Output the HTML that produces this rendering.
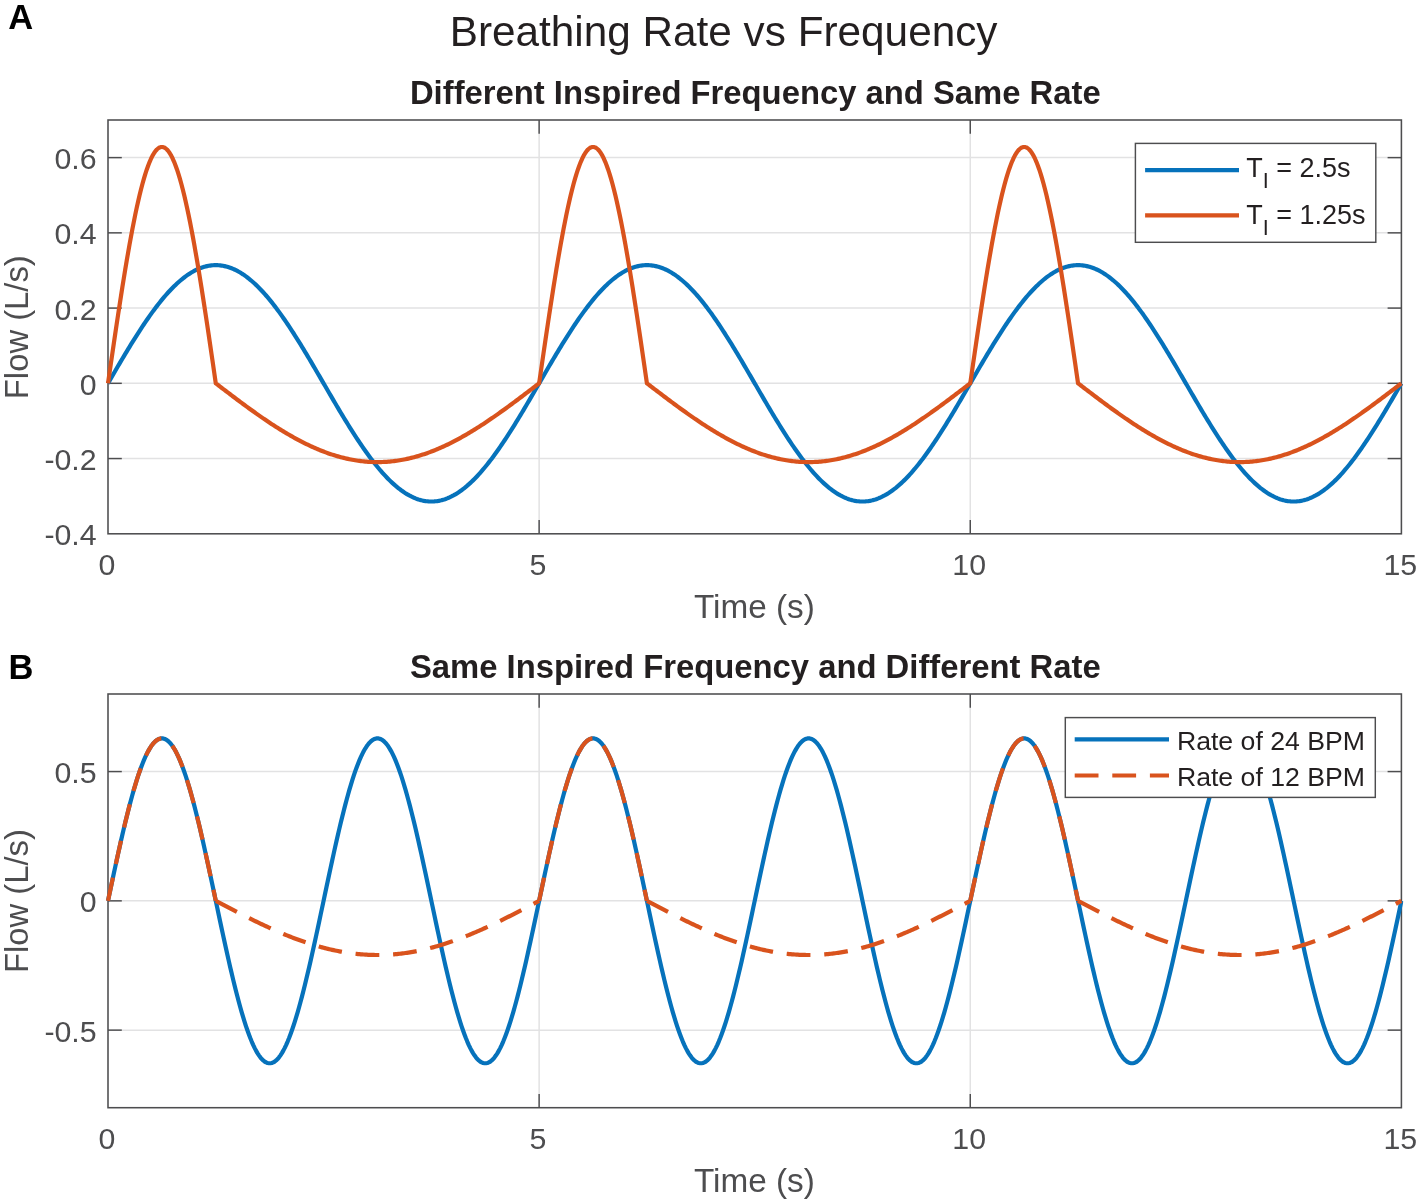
<!DOCTYPE html>
<html lang="en"><head><meta charset="utf-8"><title>Breathing Rate vs Frequency</title>
<style>html,body{margin:0;padding:0;background:#fff;}svg{display:block;will-change:transform;}text{font-family:"Liberation Sans",sans-serif;}</style></head><body>
<svg width="1417" height="1199" viewBox="0 0 1417 1199">
<rect x="0" y="0" width="1417" height="1199" fill="#fff"/>
<line x1="539.13" y1="120.00" x2="539.13" y2="533.80" stroke="#E2E2E3" stroke-width="1.50"/>
<line x1="970.27" y1="120.00" x2="970.27" y2="533.80" stroke="#E2E2E3" stroke-width="1.50"/>
<line x1="108.00" y1="157.62" x2="1401.40" y2="157.62" stroke="#E2E2E3" stroke-width="1.50"/>
<line x1="108.00" y1="232.85" x2="1401.40" y2="232.85" stroke="#E2E2E3" stroke-width="1.50"/>
<line x1="108.00" y1="308.09" x2="1401.40" y2="308.09" stroke="#E2E2E3" stroke-width="1.50"/>
<line x1="108.00" y1="383.33" x2="1401.40" y2="383.33" stroke="#E2E2E3" stroke-width="1.50"/>
<line x1="108.00" y1="458.56" x2="1401.40" y2="458.56" stroke="#E2E2E3" stroke-width="1.50"/>
<rect x="108.00" y="120.00" width="1293.40" height="413.80" fill="none" stroke="#4D4D4F" stroke-width="1.55"/>
<line x1="539.13" y1="533.80" x2="539.13" y2="520.00" stroke="#4D4D4F" stroke-width="1.45"/>
<line x1="539.13" y1="120.00" x2="539.13" y2="133.80" stroke="#4D4D4F" stroke-width="1.45"/>
<line x1="970.27" y1="533.80" x2="970.27" y2="520.00" stroke="#4D4D4F" stroke-width="1.45"/>
<line x1="970.27" y1="120.00" x2="970.27" y2="133.80" stroke="#4D4D4F" stroke-width="1.45"/>
<line x1="108.00" y1="157.62" x2="121.80" y2="157.62" stroke="#4D4D4F" stroke-width="1.45"/>
<line x1="1401.40" y1="157.62" x2="1387.60" y2="157.62" stroke="#4D4D4F" stroke-width="1.45"/>
<line x1="108.00" y1="232.85" x2="121.80" y2="232.85" stroke="#4D4D4F" stroke-width="1.45"/>
<line x1="1401.40" y1="232.85" x2="1387.60" y2="232.85" stroke="#4D4D4F" stroke-width="1.45"/>
<line x1="108.00" y1="308.09" x2="121.80" y2="308.09" stroke="#4D4D4F" stroke-width="1.45"/>
<line x1="1401.40" y1="308.09" x2="1387.60" y2="308.09" stroke="#4D4D4F" stroke-width="1.45"/>
<line x1="108.00" y1="383.33" x2="121.80" y2="383.33" stroke="#4D4D4F" stroke-width="1.45"/>
<line x1="1401.40" y1="383.33" x2="1387.60" y2="383.33" stroke="#4D4D4F" stroke-width="1.45"/>
<line x1="108.00" y1="458.56" x2="121.80" y2="458.56" stroke="#4D4D4F" stroke-width="1.45"/>
<line x1="1401.40" y1="458.56" x2="1387.60" y2="458.56" stroke="#4D4D4F" stroke-width="1.45"/>
<text x="96.6" y="169.12" font-size="30.30" fill="#4D4D4F" text-anchor="end">0.6</text>
<text x="96.6" y="244.35" font-size="30.30" fill="#4D4D4F" text-anchor="end">0.4</text>
<text x="96.6" y="319.59" font-size="30.30" fill="#4D4D4F" text-anchor="end">0.2</text>
<text x="96.6" y="394.83" font-size="30.30" fill="#4D4D4F" text-anchor="end">0</text>
<text x="96.6" y="470.06" font-size="30.30" fill="#4D4D4F" text-anchor="end">-0.2</text>
<text x="96.6" y="545.30" font-size="30.30" fill="#4D4D4F" text-anchor="end">-0.4</text>
<text x="106.90" y="575.30" font-size="30.30" fill="#4D4D4F" text-anchor="middle">0</text>
<text x="538.03" y="575.30" font-size="30.30" fill="#4D4D4F" text-anchor="middle">5</text>
<text x="969.17" y="575.30" font-size="30.30" fill="#4D4D4F" text-anchor="middle">10</text>
<text x="1400.30" y="575.30" font-size="30.30" fill="#4D4D4F" text-anchor="middle">15</text>
<text x="754.4" y="617.60" font-size="33.30" fill="#4D4D4F" text-anchor="middle">Time (s)</text>
<text transform="translate(28.2 327.20) rotate(-90)" font-size="32.80" fill="#4D4D4F" text-anchor="middle">Flow (L/s)</text>
<clipPath id="clipA"><rect x="106.00" y="120.00" width="1297.40" height="413.80"/></clipPath>
<g clip-path="url(#clipA)" fill="none" stroke-linejoin="round" stroke-linecap="butt">
<path d="M108.00 383.33 L109.44 380.85 L110.87 378.38 L112.31 375.91 L113.75 373.44 L115.19 370.97 L116.62 368.52 L118.06 366.06 L119.50 363.62 L120.93 361.18 L122.37 358.76 L123.81 356.34 L125.25 353.94 L126.68 351.55 L128.12 349.17 L129.56 346.81 L130.99 344.46 L132.43 342.13 L133.87 339.82 L135.31 337.53 L136.74 335.26 L138.18 333.01 L139.62 330.78 L141.05 328.57 L142.49 326.39 L143.93 324.24 L145.36 322.11 L146.80 320.00 L148.24 317.93 L149.68 315.88 L151.11 313.86 L152.55 311.88 L153.99 309.92 L155.42 308.00 L156.86 306.11 L158.30 304.25 L159.74 302.43 L161.17 300.64 L162.61 298.89 L164.05 297.18 L165.48 295.50 L166.92 293.86 L168.36 292.27 L169.80 290.71 L171.23 289.19 L172.67 287.72 L174.11 286.28 L175.54 284.89 L176.98 283.54 L178.42 282.24 L179.86 280.98 L181.29 279.76 L182.73 278.59 L184.17 277.47 L185.60 276.39 L187.04 275.36 L188.48 274.38 L189.92 273.45 L191.35 272.56 L192.79 271.72 L194.23 270.93 L195.66 270.19 L197.10 269.50 L198.54 268.86 L199.98 268.27 L201.41 267.73 L202.85 267.24 L204.29 266.80 L205.72 266.41 L207.16 266.08 L208.60 265.79 L210.03 265.56 L211.47 265.38 L212.91 265.25 L214.35 265.17 L215.78 265.15 L217.22 265.17 L218.66 265.25 L220.09 265.38 L221.53 265.56 L222.97 265.79 L224.41 266.08 L225.84 266.41 L227.28 266.80 L228.72 267.24 L230.15 267.73 L231.59 268.27 L233.03 268.86 L234.47 269.50 L235.90 270.19 L237.34 270.93 L238.78 271.72 L240.21 272.56 L241.65 273.45 L243.09 274.38 L244.53 275.36 L245.96 276.39 L247.40 277.47 L248.84 278.59 L250.27 279.76 L251.71 280.98 L253.15 282.24 L254.59 283.54 L256.02 284.89 L257.46 286.28 L258.90 287.72 L260.33 289.19 L261.77 290.71 L263.21 292.27 L264.65 293.86 L266.08 295.50 L267.52 297.18 L268.96 298.89 L270.39 300.64 L271.83 302.43 L273.27 304.25 L274.70 306.11 L276.14 308.00 L277.58 309.92 L279.02 311.88 L280.45 313.86 L281.89 315.88 L283.33 317.93 L284.76 320.00 L286.20 322.11 L287.64 324.24 L289.08 326.39 L290.51 328.57 L291.95 330.78 L293.39 333.01 L294.82 335.26 L296.26 337.53 L297.70 339.82 L299.14 342.13 L300.57 344.46 L302.01 346.81 L303.45 349.17 L304.88 351.55 L306.32 353.94 L307.76 356.34 L309.20 358.76 L310.63 361.18 L312.07 363.62 L313.51 366.06 L314.94 368.52 L316.38 370.97 L317.82 373.44 L319.26 375.91 L320.69 378.38 L322.13 380.85 L323.57 383.33 L325.00 385.80 L326.44 388.28 L327.88 390.75 L329.32 393.22 L330.75 395.68 L332.19 398.14 L333.63 400.59 L335.06 403.04 L336.50 405.47 L337.94 407.90 L339.37 410.31 L340.81 412.72 L342.25 415.11 L343.69 417.49 L345.12 419.85 L346.56 422.19 L348.00 424.52 L349.43 426.83 L350.87 429.12 L352.31 431.40 L353.75 433.65 L355.18 435.87 L356.62 438.08 L358.06 440.26 L359.49 442.42 L360.93 444.55 L362.37 446.65 L363.81 448.73 L365.24 450.77 L366.68 452.79 L368.12 454.78 L369.55 456.74 L370.99 458.66 L372.43 460.55 L373.87 462.41 L375.30 464.23 L376.74 466.01 L378.18 467.76 L379.61 469.48 L381.05 471.15 L382.49 472.79 L383.93 474.39 L385.36 475.94 L386.80 477.46 L388.24 478.94 L389.67 480.37 L391.11 481.76 L392.55 483.11 L393.99 484.42 L395.42 485.68 L396.86 486.89 L398.30 488.06 L399.73 489.18 L401.17 490.26 L402.61 491.29 L404.04 492.27 L405.48 493.21 L406.92 494.10 L408.36 494.93 L409.79 495.72 L411.23 496.46 L412.67 497.15 L414.10 497.80 L415.54 498.39 L416.98 498.93 L418.42 499.41 L419.85 499.85 L421.29 500.24 L422.73 500.58 L424.16 500.86 L425.60 501.09 L427.04 501.28 L428.48 501.40 L429.91 501.48 L431.35 501.51 L432.79 501.48 L434.22 501.40 L435.66 501.28 L437.10 501.09 L438.54 500.86 L439.97 500.58 L441.41 500.24 L442.85 499.85 L444.28 499.41 L445.72 498.93 L447.16 498.39 L448.60 497.80 L450.03 497.15 L451.47 496.46 L452.91 495.72 L454.34 494.93 L455.78 494.10 L457.22 493.21 L458.66 492.27 L460.09 491.29 L461.53 490.26 L462.97 489.18 L464.40 488.06 L465.84 486.89 L467.28 485.68 L468.71 484.42 L470.15 483.11 L471.59 481.76 L473.03 480.37 L474.46 478.94 L475.90 477.46 L477.34 475.94 L478.77 474.39 L480.21 472.79 L481.65 471.15 L483.09 469.48 L484.52 467.76 L485.96 466.01 L487.40 464.23 L488.83 462.41 L490.27 460.55 L491.71 458.66 L493.15 456.74 L494.58 454.78 L496.02 452.79 L497.46 450.77 L498.89 448.73 L500.33 446.65 L501.77 444.55 L503.21 442.42 L504.64 440.26 L506.08 438.08 L507.52 435.87 L508.95 433.65 L510.39 431.40 L511.83 429.12 L513.27 426.83 L514.70 424.52 L516.14 422.19 L517.58 419.85 L519.01 417.49 L520.45 415.11 L521.89 412.72 L523.33 410.31 L524.76 407.90 L526.20 405.47 L527.64 403.04 L529.07 400.59 L530.51 398.14 L531.95 395.68 L533.38 393.22 L534.82 390.75 L536.26 388.28 L537.70 385.80 L539.13 383.33 L540.57 380.85 L542.01 378.38 L543.44 375.91 L544.88 373.44 L546.32 370.97 L547.76 368.52 L549.19 366.06 L550.63 363.62 L552.07 361.18 L553.50 358.76 L554.94 356.34 L556.38 353.94 L557.82 351.55 L559.25 349.17 L560.69 346.81 L562.13 344.46 L563.56 342.13 L565.00 339.82 L566.44 337.53 L567.88 335.26 L569.31 333.01 L570.75 330.78 L572.19 328.57 L573.62 326.39 L575.06 324.24 L576.50 322.11 L577.94 320.00 L579.37 317.93 L580.81 315.88 L582.25 313.86 L583.68 311.88 L585.12 309.92 L586.56 308.00 L588.00 306.11 L589.43 304.25 L590.87 302.43 L592.31 300.64 L593.74 298.89 L595.18 297.18 L596.62 295.50 L598.05 293.86 L599.49 292.27 L600.93 290.71 L602.37 289.19 L603.80 287.72 L605.24 286.28 L606.68 284.89 L608.11 283.54 L609.55 282.24 L610.99 280.98 L612.43 279.76 L613.86 278.59 L615.30 277.47 L616.74 276.39 L618.17 275.36 L619.61 274.38 L621.05 273.45 L622.49 272.56 L623.92 271.72 L625.36 270.93 L626.80 270.19 L628.23 269.50 L629.67 268.86 L631.11 268.27 L632.55 267.73 L633.98 267.24 L635.42 266.80 L636.86 266.41 L638.29 266.08 L639.73 265.79 L641.17 265.56 L642.61 265.38 L644.04 265.25 L645.48 265.17 L646.92 265.15 L648.35 265.17 L649.79 265.25 L651.23 265.38 L652.67 265.56 L654.10 265.79 L655.54 266.08 L656.98 266.41 L658.41 266.80 L659.85 267.24 L661.29 267.73 L662.72 268.27 L664.16 268.86 L665.60 269.50 L667.04 270.19 L668.47 270.93 L669.91 271.72 L671.35 272.56 L672.78 273.45 L674.22 274.38 L675.66 275.36 L677.10 276.39 L678.53 277.47 L679.97 278.59 L681.41 279.76 L682.84 280.98 L684.28 282.24 L685.72 283.54 L687.16 284.89 L688.59 286.28 L690.03 287.72 L691.47 289.19 L692.90 290.71 L694.34 292.27 L695.78 293.86 L697.22 295.50 L698.65 297.18 L700.09 298.89 L701.53 300.64 L702.96 302.43 L704.40 304.25 L705.84 306.11 L707.28 308.00 L708.71 309.92 L710.15 311.88 L711.59 313.86 L713.02 315.88 L714.46 317.93 L715.90 320.00 L717.34 322.11 L718.77 324.24 L720.21 326.39 L721.65 328.57 L723.08 330.78 L724.52 333.01 L725.96 335.26 L727.39 337.53 L728.83 339.82 L730.27 342.13 L731.71 344.46 L733.14 346.81 L734.58 349.17 L736.02 351.55 L737.45 353.94 L738.89 356.34 L740.33 358.76 L741.77 361.18 L743.20 363.62 L744.64 366.06 L746.08 368.52 L747.51 370.97 L748.95 373.44 L750.39 375.91 L751.83 378.38 L753.26 380.85 L754.70 383.33 L756.14 385.80 L757.57 388.28 L759.01 390.75 L760.45 393.22 L761.89 395.68 L763.32 398.14 L764.76 400.59 L766.20 403.04 L767.63 405.47 L769.07 407.90 L770.51 410.31 L771.95 412.72 L773.38 415.11 L774.82 417.49 L776.26 419.85 L777.69 422.19 L779.13 424.52 L780.57 426.83 L782.01 429.12 L783.44 431.40 L784.88 433.65 L786.32 435.87 L787.75 438.08 L789.19 440.26 L790.63 442.42 L792.06 444.55 L793.50 446.65 L794.94 448.73 L796.38 450.77 L797.81 452.79 L799.25 454.78 L800.69 456.74 L802.12 458.66 L803.56 460.55 L805.00 462.41 L806.44 464.23 L807.87 466.01 L809.31 467.76 L810.75 469.48 L812.18 471.15 L813.62 472.79 L815.06 474.39 L816.50 475.94 L817.93 477.46 L819.37 478.94 L820.81 480.37 L822.24 481.76 L823.68 483.11 L825.12 484.42 L826.56 485.68 L827.99 486.89 L829.43 488.06 L830.87 489.18 L832.30 490.26 L833.74 491.29 L835.18 492.27 L836.62 493.21 L838.05 494.10 L839.49 494.93 L840.93 495.72 L842.36 496.46 L843.80 497.15 L845.24 497.80 L846.68 498.39 L848.11 498.93 L849.55 499.41 L850.99 499.85 L852.42 500.24 L853.86 500.58 L855.30 500.86 L856.73 501.09 L858.17 501.28 L859.61 501.40 L861.05 501.48 L862.48 501.51 L863.92 501.48 L865.36 501.40 L866.79 501.28 L868.23 501.09 L869.67 500.86 L871.11 500.58 L872.54 500.24 L873.98 499.85 L875.42 499.41 L876.85 498.93 L878.29 498.39 L879.73 497.80 L881.17 497.15 L882.60 496.46 L884.04 495.72 L885.48 494.93 L886.91 494.10 L888.35 493.21 L889.79 492.27 L891.23 491.29 L892.66 490.26 L894.10 489.18 L895.54 488.06 L896.97 486.89 L898.41 485.68 L899.85 484.42 L901.29 483.11 L902.72 481.76 L904.16 480.37 L905.60 478.94 L907.03 477.46 L908.47 475.94 L909.91 474.39 L911.35 472.79 L912.78 471.15 L914.22 469.48 L915.66 467.76 L917.09 466.01 L918.53 464.23 L919.97 462.41 L921.40 460.55 L922.84 458.66 L924.28 456.74 L925.72 454.78 L927.15 452.79 L928.59 450.77 L930.03 448.73 L931.46 446.65 L932.90 444.55 L934.34 442.42 L935.78 440.26 L937.21 438.08 L938.65 435.87 L940.09 433.65 L941.52 431.40 L942.96 429.12 L944.40 426.83 L945.84 424.52 L947.27 422.19 L948.71 419.85 L950.15 417.49 L951.58 415.11 L953.02 412.72 L954.46 410.31 L955.90 407.90 L957.33 405.47 L958.77 403.04 L960.21 400.59 L961.64 398.14 L963.08 395.68 L964.52 393.22 L965.96 390.75 L967.39 388.28 L968.83 385.80 L970.27 383.33 L971.70 380.85 L973.14 378.38 L974.58 375.91 L976.02 373.44 L977.45 370.97 L978.89 368.52 L980.33 366.06 L981.76 363.62 L983.20 361.18 L984.64 358.76 L986.07 356.34 L987.51 353.94 L988.95 351.55 L990.39 349.17 L991.82 346.81 L993.26 344.46 L994.70 342.13 L996.13 339.82 L997.57 337.53 L999.01 335.26 L1000.45 333.01 L1001.88 330.78 L1003.32 328.57 L1004.76 326.39 L1006.19 324.24 L1007.63 322.11 L1009.07 320.00 L1010.51 317.93 L1011.94 315.88 L1013.38 313.86 L1014.82 311.88 L1016.25 309.92 L1017.69 308.00 L1019.13 306.11 L1020.57 304.25 L1022.00 302.43 L1023.44 300.64 L1024.88 298.89 L1026.31 297.18 L1027.75 295.50 L1029.19 293.86 L1030.63 292.27 L1032.06 290.71 L1033.50 289.19 L1034.94 287.72 L1036.37 286.28 L1037.81 284.89 L1039.25 283.54 L1040.69 282.24 L1042.12 280.98 L1043.56 279.76 L1045.00 278.59 L1046.43 277.47 L1047.87 276.39 L1049.31 275.36 L1050.74 274.38 L1052.18 273.45 L1053.62 272.56 L1055.06 271.72 L1056.49 270.93 L1057.93 270.19 L1059.37 269.50 L1060.80 268.86 L1062.24 268.27 L1063.68 267.73 L1065.12 267.24 L1066.55 266.80 L1067.99 266.41 L1069.43 266.08 L1070.86 265.79 L1072.30 265.56 L1073.74 265.38 L1075.18 265.25 L1076.61 265.17 L1078.05 265.15 L1079.49 265.17 L1080.92 265.25 L1082.36 265.38 L1083.80 265.56 L1085.24 265.79 L1086.67 266.08 L1088.11 266.41 L1089.55 266.80 L1090.98 267.24 L1092.42 267.73 L1093.86 268.27 L1095.30 268.86 L1096.73 269.50 L1098.17 270.19 L1099.61 270.93 L1101.04 271.72 L1102.48 272.56 L1103.92 273.45 L1105.36 274.38 L1106.79 275.36 L1108.23 276.39 L1109.67 277.47 L1111.10 278.59 L1112.54 279.76 L1113.98 280.98 L1115.41 282.24 L1116.85 283.54 L1118.29 284.89 L1119.73 286.28 L1121.16 287.72 L1122.60 289.19 L1124.04 290.71 L1125.47 292.27 L1126.91 293.86 L1128.35 295.50 L1129.79 297.18 L1131.22 298.89 L1132.66 300.64 L1134.10 302.43 L1135.53 304.25 L1136.97 306.11 L1138.41 308.00 L1139.85 309.92 L1141.28 311.88 L1142.72 313.86 L1144.16 315.88 L1145.59 317.93 L1147.03 320.00 L1148.47 322.11 L1149.91 324.24 L1151.34 326.39 L1152.78 328.57 L1154.22 330.78 L1155.65 333.01 L1157.09 335.26 L1158.53 337.53 L1159.97 339.82 L1161.40 342.13 L1162.84 344.46 L1164.28 346.81 L1165.71 349.17 L1167.15 351.55 L1168.59 353.94 L1170.03 356.34 L1171.46 358.76 L1172.90 361.18 L1174.34 363.62 L1175.77 366.06 L1177.21 368.52 L1178.65 370.97 L1180.08 373.44 L1181.52 375.91 L1182.96 378.38 L1184.40 380.85 L1185.83 383.33 L1187.27 385.80 L1188.71 388.28 L1190.14 390.75 L1191.58 393.22 L1193.02 395.68 L1194.46 398.14 L1195.89 400.59 L1197.33 403.04 L1198.77 405.47 L1200.20 407.90 L1201.64 410.31 L1203.08 412.72 L1204.52 415.11 L1205.95 417.49 L1207.39 419.85 L1208.83 422.19 L1210.26 424.52 L1211.70 426.83 L1213.14 429.12 L1214.58 431.40 L1216.01 433.65 L1217.45 435.87 L1218.89 438.08 L1220.32 440.26 L1221.76 442.42 L1223.20 444.55 L1224.64 446.65 L1226.07 448.73 L1227.51 450.77 L1228.95 452.79 L1230.38 454.78 L1231.82 456.74 L1233.26 458.66 L1234.70 460.55 L1236.13 462.41 L1237.57 464.23 L1239.01 466.01 L1240.44 467.76 L1241.88 469.48 L1243.32 471.15 L1244.75 472.79 L1246.19 474.39 L1247.63 475.94 L1249.07 477.46 L1250.50 478.94 L1251.94 480.37 L1253.38 481.76 L1254.81 483.11 L1256.25 484.42 L1257.69 485.68 L1259.13 486.89 L1260.56 488.06 L1262.00 489.18 L1263.44 490.26 L1264.87 491.29 L1266.31 492.27 L1267.75 493.21 L1269.19 494.10 L1270.62 494.93 L1272.06 495.72 L1273.50 496.46 L1274.93 497.15 L1276.37 497.80 L1277.81 498.39 L1279.25 498.93 L1280.68 499.41 L1282.12 499.85 L1283.56 500.24 L1284.99 500.58 L1286.43 500.86 L1287.87 501.09 L1289.31 501.28 L1290.74 501.40 L1292.18 501.48 L1293.62 501.51 L1295.05 501.48 L1296.49 501.40 L1297.93 501.28 L1299.37 501.09 L1300.80 500.86 L1302.24 500.58 L1303.68 500.24 L1305.11 499.85 L1306.55 499.41 L1307.99 498.93 L1309.42 498.39 L1310.86 497.80 L1312.30 497.15 L1313.74 496.46 L1315.17 495.72 L1316.61 494.93 L1318.05 494.10 L1319.48 493.21 L1320.92 492.27 L1322.36 491.29 L1323.80 490.26 L1325.23 489.18 L1326.67 488.06 L1328.11 486.89 L1329.54 485.68 L1330.98 484.42 L1332.42 483.11 L1333.86 481.76 L1335.29 480.37 L1336.73 478.94 L1338.17 477.46 L1339.60 475.94 L1341.04 474.39 L1342.48 472.79 L1343.92 471.15 L1345.35 469.48 L1346.79 467.76 L1348.23 466.01 L1349.66 464.23 L1351.10 462.41 L1352.54 460.55 L1353.98 458.66 L1355.41 456.74 L1356.85 454.78 L1358.29 452.79 L1359.72 450.77 L1361.16 448.73 L1362.60 446.65 L1364.04 444.55 L1365.47 442.42 L1366.91 440.26 L1368.35 438.08 L1369.78 435.87 L1371.22 433.65 L1372.66 431.40 L1374.09 429.12 L1375.53 426.83 L1376.97 424.52 L1378.41 422.19 L1379.84 419.85 L1381.28 417.49 L1382.72 415.11 L1384.15 412.72 L1385.59 410.31 L1387.03 407.90 L1388.47 405.47 L1389.90 403.04 L1391.34 400.59 L1392.78 398.14 L1394.21 395.68 L1395.65 393.22 L1397.09 390.75 L1398.53 388.28 L1399.96 385.80 L1401.40 383.33" stroke="#0672BB" stroke-width="4.20"/>
<path d="M108.00 383.33 L109.44 373.43 L110.87 363.55 L112.31 353.70 L113.75 343.91 L115.19 334.18 L116.62 324.55 L118.06 315.01 L119.50 305.60 L120.93 296.32 L122.37 287.19 L123.81 278.23 L125.25 269.46 L126.68 260.89 L128.12 252.53 L129.56 244.40 L130.99 236.51 L132.43 228.88 L133.87 221.53 L135.31 214.45 L136.74 207.68 L138.18 201.21 L139.62 195.06 L141.05 189.24 L142.49 183.76 L143.93 178.63 L145.36 173.86 L146.80 169.46 L148.24 165.43 L149.68 161.79 L151.11 158.53 L152.55 155.67 L153.99 153.21 L155.42 151.15 L156.86 149.50 L158.30 148.26 L159.74 147.43 L161.17 147.02 L162.61 147.02 L164.05 147.43 L165.48 148.26 L166.92 149.50 L168.36 151.15 L169.80 153.21 L171.23 155.67 L172.67 158.53 L174.11 161.79 L175.54 165.43 L176.98 169.46 L178.42 173.86 L179.86 178.63 L181.29 183.76 L182.73 189.24 L184.17 195.06 L185.60 201.21 L187.04 207.68 L188.48 214.45 L189.92 221.53 L191.35 228.88 L192.79 236.51 L194.23 244.40 L195.66 252.53 L197.10 260.89 L198.54 269.46 L199.98 278.23 L201.41 287.19 L202.85 296.32 L204.29 305.60 L205.72 315.01 L207.16 324.55 L208.60 334.18 L210.03 343.91 L211.47 353.70 L212.91 363.55 L214.35 373.43 L215.78 383.33 L215.78 383.33 L217.22 384.43 L218.66 385.53 L220.09 386.63 L221.53 387.73 L222.97 388.82 L224.41 389.92 L225.84 391.02 L227.28 392.11 L228.72 393.20 L230.15 394.29 L231.59 395.38 L233.03 396.47 L234.47 397.55 L235.90 398.63 L237.34 399.71 L238.78 400.78 L240.21 401.85 L241.65 402.92 L243.09 403.98 L244.53 405.04 L245.96 406.10 L247.40 407.15 L248.84 408.20 L250.27 409.24 L251.71 410.27 L253.15 411.31 L254.59 412.33 L256.02 413.35 L257.46 414.36 L258.90 415.37 L260.33 416.37 L261.77 417.37 L263.21 418.36 L264.65 419.34 L266.08 420.32 L267.52 421.28 L268.96 422.24 L270.39 423.20 L271.83 424.14 L273.27 425.08 L274.70 426.01 L276.14 426.93 L277.58 427.84 L279.02 428.74 L280.45 429.64 L281.89 430.52 L283.33 431.40 L284.76 432.27 L286.20 433.12 L287.64 433.97 L289.08 434.81 L290.51 435.64 L291.95 436.45 L293.39 437.26 L294.82 438.06 L296.26 438.84 L297.70 439.62 L299.14 440.38 L300.57 441.14 L302.01 441.88 L303.45 442.61 L304.88 443.33 L306.32 444.03 L307.76 444.73 L309.20 445.41 L310.63 446.08 L312.07 446.74 L313.51 447.39 L314.94 448.02 L316.38 448.64 L317.82 449.25 L319.26 449.85 L320.69 450.43 L322.13 451.00 L323.57 451.56 L325.00 452.10 L326.44 452.63 L327.88 453.15 L329.32 453.65 L330.75 454.14 L332.19 454.62 L333.63 455.08 L335.06 455.53 L336.50 455.96 L337.94 456.38 L339.37 456.78 L340.81 457.17 L342.25 457.55 L343.69 457.91 L345.12 458.26 L346.56 458.59 L348.00 458.91 L349.43 459.21 L350.87 459.50 L352.31 459.77 L353.75 460.03 L355.18 460.28 L356.62 460.51 L358.06 460.72 L359.49 460.92 L360.93 461.10 L362.37 461.27 L363.81 461.42 L365.24 461.56 L366.68 461.68 L368.12 461.79 L369.55 461.88 L370.99 461.96 L372.43 462.02 L373.87 462.07 L375.30 462.10 L376.74 462.11 L378.18 462.11 L379.61 462.10 L381.05 462.07 L382.49 462.02 L383.93 461.96 L385.36 461.88 L386.80 461.79 L388.24 461.68 L389.67 461.56 L391.11 461.42 L392.55 461.27 L393.99 461.10 L395.42 460.92 L396.86 460.72 L398.30 460.51 L399.73 460.28 L401.17 460.03 L402.61 459.77 L404.04 459.50 L405.48 459.21 L406.92 458.91 L408.36 458.59 L409.79 458.26 L411.23 457.91 L412.67 457.55 L414.10 457.17 L415.54 456.78 L416.98 456.38 L418.42 455.96 L419.85 455.53 L421.29 455.08 L422.73 454.62 L424.16 454.14 L425.60 453.65 L427.04 453.15 L428.48 452.63 L429.91 452.10 L431.35 451.56 L432.79 451.00 L434.22 450.43 L435.66 449.85 L437.10 449.25 L438.54 448.64 L439.97 448.02 L441.41 447.39 L442.85 446.74 L444.28 446.08 L445.72 445.41 L447.16 444.73 L448.60 444.03 L450.03 443.33 L451.47 442.61 L452.91 441.88 L454.34 441.14 L455.78 440.38 L457.22 439.62 L458.66 438.84 L460.09 438.06 L461.53 437.26 L462.97 436.45 L464.40 435.64 L465.84 434.81 L467.28 433.97 L468.71 433.12 L470.15 432.27 L471.59 431.40 L473.03 430.52 L474.46 429.64 L475.90 428.74 L477.34 427.84 L478.77 426.93 L480.21 426.01 L481.65 425.08 L483.09 424.14 L484.52 423.20 L485.96 422.24 L487.40 421.28 L488.83 420.32 L490.27 419.34 L491.71 418.36 L493.15 417.37 L494.58 416.37 L496.02 415.37 L497.46 414.36 L498.89 413.35 L500.33 412.33 L501.77 411.31 L503.21 410.27 L504.64 409.24 L506.08 408.20 L507.52 407.15 L508.95 406.10 L510.39 405.04 L511.83 403.98 L513.27 402.92 L514.70 401.85 L516.14 400.78 L517.58 399.71 L519.01 398.63 L520.45 397.55 L521.89 396.47 L523.33 395.38 L524.76 394.29 L526.20 393.20 L527.64 392.11 L529.07 391.02 L530.51 389.92 L531.95 388.82 L533.38 387.73 L534.82 386.63 L536.26 385.53 L537.70 384.43 L539.13 383.33 L539.13 383.33 L540.57 373.43 L542.01 363.55 L543.44 353.70 L544.88 343.91 L546.32 334.18 L547.76 324.55 L549.19 315.01 L550.63 305.60 L552.07 296.32 L553.50 287.19 L554.94 278.23 L556.38 269.46 L557.82 260.89 L559.25 252.53 L560.69 244.40 L562.13 236.51 L563.56 228.88 L565.00 221.53 L566.44 214.45 L567.88 207.68 L569.31 201.21 L570.75 195.06 L572.19 189.24 L573.62 183.76 L575.06 178.63 L576.50 173.86 L577.94 169.46 L579.37 165.43 L580.81 161.79 L582.25 158.53 L583.68 155.67 L585.12 153.21 L586.56 151.15 L588.00 149.50 L589.43 148.26 L590.87 147.43 L592.31 147.02 L593.74 147.02 L595.18 147.43 L596.62 148.26 L598.05 149.50 L599.49 151.15 L600.93 153.21 L602.37 155.67 L603.80 158.53 L605.24 161.79 L606.68 165.43 L608.11 169.46 L609.55 173.86 L610.99 178.63 L612.43 183.76 L613.86 189.24 L615.30 195.06 L616.74 201.21 L618.17 207.68 L619.61 214.45 L621.05 221.53 L622.49 228.88 L623.92 236.51 L625.36 244.40 L626.80 252.53 L628.23 260.89 L629.67 269.46 L631.11 278.23 L632.55 287.19 L633.98 296.32 L635.42 305.60 L636.86 315.01 L638.29 324.55 L639.73 334.18 L641.17 343.91 L642.61 353.70 L644.04 363.55 L645.48 373.43 L646.92 383.33 L646.92 383.33 L648.35 384.43 L649.79 385.53 L651.23 386.63 L652.67 387.73 L654.10 388.82 L655.54 389.92 L656.98 391.02 L658.41 392.11 L659.85 393.20 L661.29 394.29 L662.72 395.38 L664.16 396.47 L665.60 397.55 L667.04 398.63 L668.47 399.71 L669.91 400.78 L671.35 401.85 L672.78 402.92 L674.22 403.98 L675.66 405.04 L677.10 406.10 L678.53 407.15 L679.97 408.20 L681.41 409.24 L682.84 410.27 L684.28 411.31 L685.72 412.33 L687.16 413.35 L688.59 414.36 L690.03 415.37 L691.47 416.37 L692.90 417.37 L694.34 418.36 L695.78 419.34 L697.22 420.32 L698.65 421.28 L700.09 422.24 L701.53 423.20 L702.96 424.14 L704.40 425.08 L705.84 426.01 L707.28 426.93 L708.71 427.84 L710.15 428.74 L711.59 429.64 L713.02 430.52 L714.46 431.40 L715.90 432.27 L717.34 433.12 L718.77 433.97 L720.21 434.81 L721.65 435.64 L723.08 436.45 L724.52 437.26 L725.96 438.06 L727.39 438.84 L728.83 439.62 L730.27 440.38 L731.71 441.14 L733.14 441.88 L734.58 442.61 L736.02 443.33 L737.45 444.03 L738.89 444.73 L740.33 445.41 L741.77 446.08 L743.20 446.74 L744.64 447.39 L746.08 448.02 L747.51 448.64 L748.95 449.25 L750.39 449.85 L751.83 450.43 L753.26 451.00 L754.70 451.56 L756.14 452.10 L757.57 452.63 L759.01 453.15 L760.45 453.65 L761.89 454.14 L763.32 454.62 L764.76 455.08 L766.20 455.53 L767.63 455.96 L769.07 456.38 L770.51 456.78 L771.95 457.17 L773.38 457.55 L774.82 457.91 L776.26 458.26 L777.69 458.59 L779.13 458.91 L780.57 459.21 L782.01 459.50 L783.44 459.77 L784.88 460.03 L786.32 460.28 L787.75 460.51 L789.19 460.72 L790.63 460.92 L792.06 461.10 L793.50 461.27 L794.94 461.42 L796.38 461.56 L797.81 461.68 L799.25 461.79 L800.69 461.88 L802.12 461.96 L803.56 462.02 L805.00 462.07 L806.44 462.10 L807.87 462.11 L809.31 462.11 L810.75 462.10 L812.18 462.07 L813.62 462.02 L815.06 461.96 L816.50 461.88 L817.93 461.79 L819.37 461.68 L820.81 461.56 L822.24 461.42 L823.68 461.27 L825.12 461.10 L826.56 460.92 L827.99 460.72 L829.43 460.51 L830.87 460.28 L832.30 460.03 L833.74 459.77 L835.18 459.50 L836.62 459.21 L838.05 458.91 L839.49 458.59 L840.93 458.26 L842.36 457.91 L843.80 457.55 L845.24 457.17 L846.68 456.78 L848.11 456.38 L849.55 455.96 L850.99 455.53 L852.42 455.08 L853.86 454.62 L855.30 454.14 L856.73 453.65 L858.17 453.15 L859.61 452.63 L861.05 452.10 L862.48 451.56 L863.92 451.00 L865.36 450.43 L866.79 449.85 L868.23 449.25 L869.67 448.64 L871.11 448.02 L872.54 447.39 L873.98 446.74 L875.42 446.08 L876.85 445.41 L878.29 444.73 L879.73 444.03 L881.17 443.33 L882.60 442.61 L884.04 441.88 L885.48 441.14 L886.91 440.38 L888.35 439.62 L889.79 438.84 L891.23 438.06 L892.66 437.26 L894.10 436.45 L895.54 435.64 L896.97 434.81 L898.41 433.97 L899.85 433.12 L901.29 432.27 L902.72 431.40 L904.16 430.52 L905.60 429.64 L907.03 428.74 L908.47 427.84 L909.91 426.93 L911.35 426.01 L912.78 425.08 L914.22 424.14 L915.66 423.20 L917.09 422.24 L918.53 421.28 L919.97 420.32 L921.40 419.34 L922.84 418.36 L924.28 417.37 L925.72 416.37 L927.15 415.37 L928.59 414.36 L930.03 413.35 L931.46 412.33 L932.90 411.31 L934.34 410.27 L935.78 409.24 L937.21 408.20 L938.65 407.15 L940.09 406.10 L941.52 405.04 L942.96 403.98 L944.40 402.92 L945.84 401.85 L947.27 400.78 L948.71 399.71 L950.15 398.63 L951.58 397.55 L953.02 396.47 L954.46 395.38 L955.90 394.29 L957.33 393.20 L958.77 392.11 L960.21 391.02 L961.64 389.92 L963.08 388.82 L964.52 387.73 L965.96 386.63 L967.39 385.53 L968.83 384.43 L970.27 383.33 L970.27 383.33 L971.70 373.43 L973.14 363.55 L974.58 353.70 L976.02 343.91 L977.45 334.18 L978.89 324.55 L980.33 315.01 L981.76 305.60 L983.20 296.32 L984.64 287.19 L986.07 278.23 L987.51 269.46 L988.95 260.89 L990.39 252.53 L991.82 244.40 L993.26 236.51 L994.70 228.88 L996.13 221.53 L997.57 214.45 L999.01 207.68 L1000.45 201.21 L1001.88 195.06 L1003.32 189.24 L1004.76 183.76 L1006.19 178.63 L1007.63 173.86 L1009.07 169.46 L1010.51 165.43 L1011.94 161.79 L1013.38 158.53 L1014.82 155.67 L1016.25 153.21 L1017.69 151.15 L1019.13 149.50 L1020.57 148.26 L1022.00 147.43 L1023.44 147.02 L1024.88 147.02 L1026.31 147.43 L1027.75 148.26 L1029.19 149.50 L1030.63 151.15 L1032.06 153.21 L1033.50 155.67 L1034.94 158.53 L1036.37 161.79 L1037.81 165.43 L1039.25 169.46 L1040.69 173.86 L1042.12 178.63 L1043.56 183.76 L1045.00 189.24 L1046.43 195.06 L1047.87 201.21 L1049.31 207.68 L1050.74 214.45 L1052.18 221.53 L1053.62 228.88 L1055.06 236.51 L1056.49 244.40 L1057.93 252.53 L1059.37 260.89 L1060.80 269.46 L1062.24 278.23 L1063.68 287.19 L1065.12 296.32 L1066.55 305.60 L1067.99 315.01 L1069.43 324.55 L1070.86 334.18 L1072.30 343.91 L1073.74 353.70 L1075.18 363.55 L1076.61 373.43 L1078.05 383.33 L1078.05 383.33 L1079.49 384.43 L1080.92 385.53 L1082.36 386.63 L1083.80 387.73 L1085.24 388.82 L1086.67 389.92 L1088.11 391.02 L1089.55 392.11 L1090.98 393.20 L1092.42 394.29 L1093.86 395.38 L1095.30 396.47 L1096.73 397.55 L1098.17 398.63 L1099.61 399.71 L1101.04 400.78 L1102.48 401.85 L1103.92 402.92 L1105.36 403.98 L1106.79 405.04 L1108.23 406.10 L1109.67 407.15 L1111.10 408.20 L1112.54 409.24 L1113.98 410.27 L1115.41 411.31 L1116.85 412.33 L1118.29 413.35 L1119.73 414.36 L1121.16 415.37 L1122.60 416.37 L1124.04 417.37 L1125.47 418.36 L1126.91 419.34 L1128.35 420.32 L1129.79 421.28 L1131.22 422.24 L1132.66 423.20 L1134.10 424.14 L1135.53 425.08 L1136.97 426.01 L1138.41 426.93 L1139.85 427.84 L1141.28 428.74 L1142.72 429.64 L1144.16 430.52 L1145.59 431.40 L1147.03 432.27 L1148.47 433.12 L1149.91 433.97 L1151.34 434.81 L1152.78 435.64 L1154.22 436.45 L1155.65 437.26 L1157.09 438.06 L1158.53 438.84 L1159.97 439.62 L1161.40 440.38 L1162.84 441.14 L1164.28 441.88 L1165.71 442.61 L1167.15 443.33 L1168.59 444.03 L1170.03 444.73 L1171.46 445.41 L1172.90 446.08 L1174.34 446.74 L1175.77 447.39 L1177.21 448.02 L1178.65 448.64 L1180.08 449.25 L1181.52 449.85 L1182.96 450.43 L1184.40 451.00 L1185.83 451.56 L1187.27 452.10 L1188.71 452.63 L1190.14 453.15 L1191.58 453.65 L1193.02 454.14 L1194.46 454.62 L1195.89 455.08 L1197.33 455.53 L1198.77 455.96 L1200.20 456.38 L1201.64 456.78 L1203.08 457.17 L1204.52 457.55 L1205.95 457.91 L1207.39 458.26 L1208.83 458.59 L1210.26 458.91 L1211.70 459.21 L1213.14 459.50 L1214.58 459.77 L1216.01 460.03 L1217.45 460.28 L1218.89 460.51 L1220.32 460.72 L1221.76 460.92 L1223.20 461.10 L1224.64 461.27 L1226.07 461.42 L1227.51 461.56 L1228.95 461.68 L1230.38 461.79 L1231.82 461.88 L1233.26 461.96 L1234.70 462.02 L1236.13 462.07 L1237.57 462.10 L1239.01 462.11 L1240.44 462.11 L1241.88 462.10 L1243.32 462.07 L1244.75 462.02 L1246.19 461.96 L1247.63 461.88 L1249.07 461.79 L1250.50 461.68 L1251.94 461.56 L1253.38 461.42 L1254.81 461.27 L1256.25 461.10 L1257.69 460.92 L1259.13 460.72 L1260.56 460.51 L1262.00 460.28 L1263.44 460.03 L1264.87 459.77 L1266.31 459.50 L1267.75 459.21 L1269.19 458.91 L1270.62 458.59 L1272.06 458.26 L1273.50 457.91 L1274.93 457.55 L1276.37 457.17 L1277.81 456.78 L1279.25 456.38 L1280.68 455.96 L1282.12 455.53 L1283.56 455.08 L1284.99 454.62 L1286.43 454.14 L1287.87 453.65 L1289.31 453.15 L1290.74 452.63 L1292.18 452.10 L1293.62 451.56 L1295.05 451.00 L1296.49 450.43 L1297.93 449.85 L1299.37 449.25 L1300.80 448.64 L1302.24 448.02 L1303.68 447.39 L1305.11 446.74 L1306.55 446.08 L1307.99 445.41 L1309.42 444.73 L1310.86 444.03 L1312.30 443.33 L1313.74 442.61 L1315.17 441.88 L1316.61 441.14 L1318.05 440.38 L1319.48 439.62 L1320.92 438.84 L1322.36 438.06 L1323.80 437.26 L1325.23 436.45 L1326.67 435.64 L1328.11 434.81 L1329.54 433.97 L1330.98 433.12 L1332.42 432.27 L1333.86 431.40 L1335.29 430.52 L1336.73 429.64 L1338.17 428.74 L1339.60 427.84 L1341.04 426.93 L1342.48 426.01 L1343.92 425.08 L1345.35 424.14 L1346.79 423.20 L1348.23 422.24 L1349.66 421.28 L1351.10 420.32 L1352.54 419.34 L1353.98 418.36 L1355.41 417.37 L1356.85 416.37 L1358.29 415.37 L1359.72 414.36 L1361.16 413.35 L1362.60 412.33 L1364.04 411.31 L1365.47 410.27 L1366.91 409.24 L1368.35 408.20 L1369.78 407.15 L1371.22 406.10 L1372.66 405.04 L1374.09 403.98 L1375.53 402.92 L1376.97 401.85 L1378.41 400.78 L1379.84 399.71 L1381.28 398.63 L1382.72 397.55 L1384.15 396.47 L1385.59 395.38 L1387.03 394.29 L1388.47 393.20 L1389.90 392.11 L1391.34 391.02 L1392.78 389.92 L1394.21 388.82 L1395.65 387.73 L1397.09 386.63 L1398.53 385.53 L1399.96 384.43 L1401.40 383.33" stroke="#D9531D" stroke-width="4.20"/>
</g>
<line x1="539.13" y1="694.00" x2="539.13" y2="1107.70" stroke="#E2E2E3" stroke-width="1.50"/>
<line x1="970.27" y1="694.00" x2="970.27" y2="1107.70" stroke="#E2E2E3" stroke-width="1.50"/>
<line x1="108.00" y1="771.57" x2="1401.40" y2="771.57" stroke="#E2E2E3" stroke-width="1.50"/>
<line x1="108.00" y1="900.85" x2="1401.40" y2="900.85" stroke="#E2E2E3" stroke-width="1.50"/>
<line x1="108.00" y1="1030.13" x2="1401.40" y2="1030.13" stroke="#E2E2E3" stroke-width="1.50"/>
<rect x="108.00" y="694.00" width="1293.40" height="413.70" fill="none" stroke="#4D4D4F" stroke-width="1.55"/>
<line x1="539.13" y1="1107.70" x2="539.13" y2="1093.90" stroke="#4D4D4F" stroke-width="1.45"/>
<line x1="539.13" y1="694.00" x2="539.13" y2="707.80" stroke="#4D4D4F" stroke-width="1.45"/>
<line x1="970.27" y1="1107.70" x2="970.27" y2="1093.90" stroke="#4D4D4F" stroke-width="1.45"/>
<line x1="970.27" y1="694.00" x2="970.27" y2="707.80" stroke="#4D4D4F" stroke-width="1.45"/>
<line x1="108.00" y1="771.57" x2="121.80" y2="771.57" stroke="#4D4D4F" stroke-width="1.45"/>
<line x1="1401.40" y1="771.57" x2="1387.60" y2="771.57" stroke="#4D4D4F" stroke-width="1.45"/>
<line x1="108.00" y1="900.85" x2="121.80" y2="900.85" stroke="#4D4D4F" stroke-width="1.45"/>
<line x1="1401.40" y1="900.85" x2="1387.60" y2="900.85" stroke="#4D4D4F" stroke-width="1.45"/>
<line x1="108.00" y1="1030.13" x2="121.80" y2="1030.13" stroke="#4D4D4F" stroke-width="1.45"/>
<line x1="1401.40" y1="1030.13" x2="1387.60" y2="1030.13" stroke="#4D4D4F" stroke-width="1.45"/>
<text x="96.6" y="783.07" font-size="30.30" fill="#4D4D4F" text-anchor="end">0.5</text>
<text x="96.6" y="912.35" font-size="30.30" fill="#4D4D4F" text-anchor="end">0</text>
<text x="96.6" y="1041.63" font-size="30.30" fill="#4D4D4F" text-anchor="end">-0.5</text>
<text x="106.90" y="1149.20" font-size="30.30" fill="#4D4D4F" text-anchor="middle">0</text>
<text x="538.03" y="1149.20" font-size="30.30" fill="#4D4D4F" text-anchor="middle">5</text>
<text x="969.17" y="1149.20" font-size="30.30" fill="#4D4D4F" text-anchor="middle">10</text>
<text x="1400.30" y="1149.20" font-size="30.30" fill="#4D4D4F" text-anchor="middle">15</text>
<text x="754.4" y="1191.50" font-size="33.30" fill="#4D4D4F" text-anchor="middle">Time (s)</text>
<text transform="translate(28.2 901.15) rotate(-90)" font-size="32.80" fill="#4D4D4F" text-anchor="middle">Flow (L/s)</text>
<clipPath id="clipB"><rect x="106.00" y="694.00" width="1297.40" height="413.70"/></clipPath>
<g clip-path="url(#clipB)" fill="none" stroke-linejoin="round" stroke-linecap="butt">
<path d="M108.00 900.85 L109.44 894.05 L110.87 887.26 L112.31 880.49 L113.75 873.76 L115.19 867.07 L116.62 860.45 L118.06 853.89 L119.50 847.42 L120.93 841.04 L122.37 834.77 L123.81 828.61 L125.25 822.58 L126.68 816.69 L128.12 810.95 L129.56 805.36 L130.99 799.94 L132.43 794.70 L133.87 789.64 L135.31 784.78 L136.74 780.12 L138.18 775.67 L139.62 771.45 L141.05 767.45 L142.49 763.68 L143.93 760.16 L145.36 756.88 L146.80 753.85 L148.24 751.08 L149.68 748.58 L151.11 746.34 L152.55 744.37 L153.99 742.68 L155.42 741.27 L156.86 740.13 L158.30 739.28 L159.74 738.71 L161.17 738.43 L162.61 738.43 L164.05 738.71 L165.48 739.28 L166.92 740.13 L168.36 741.27 L169.80 742.68 L171.23 744.37 L172.67 746.34 L174.11 748.58 L175.54 751.08 L176.98 753.85 L178.42 756.88 L179.86 760.16 L181.29 763.68 L182.73 767.45 L184.17 771.45 L185.60 775.67 L187.04 780.12 L188.48 784.78 L189.92 789.64 L191.35 794.70 L192.79 799.94 L194.23 805.36 L195.66 810.95 L197.10 816.69 L198.54 822.58 L199.98 828.61 L201.41 834.77 L202.85 841.04 L204.29 847.42 L205.72 853.89 L207.16 860.45 L208.60 867.07 L210.03 873.76 L211.47 880.49 L212.91 887.26 L214.35 894.05 L215.78 900.85 L217.22 907.65 L218.66 914.44 L220.09 921.21 L221.53 927.94 L222.97 934.63 L224.41 941.25 L225.84 947.81 L227.28 954.28 L228.72 960.66 L230.15 966.93 L231.59 973.09 L233.03 979.12 L234.47 985.01 L235.90 990.75 L237.34 996.34 L238.78 1001.76 L240.21 1007.00 L241.65 1012.06 L243.09 1016.92 L244.53 1021.58 L245.96 1026.03 L247.40 1030.25 L248.84 1034.25 L250.27 1038.02 L251.71 1041.54 L253.15 1044.82 L254.59 1047.85 L256.02 1050.62 L257.46 1053.12 L258.90 1055.36 L260.33 1057.33 L261.77 1059.02 L263.21 1060.43 L264.65 1061.57 L266.08 1062.42 L267.52 1062.99 L268.96 1063.27 L270.39 1063.27 L271.83 1062.99 L273.27 1062.42 L274.70 1061.57 L276.14 1060.43 L277.58 1059.02 L279.02 1057.33 L280.45 1055.36 L281.89 1053.12 L283.33 1050.62 L284.76 1047.85 L286.20 1044.82 L287.64 1041.54 L289.08 1038.02 L290.51 1034.25 L291.95 1030.25 L293.39 1026.03 L294.82 1021.58 L296.26 1016.92 L297.70 1012.06 L299.14 1007.00 L300.57 1001.76 L302.01 996.34 L303.45 990.75 L304.88 985.01 L306.32 979.12 L307.76 973.09 L309.20 966.93 L310.63 960.66 L312.07 954.28 L313.51 947.81 L314.94 941.25 L316.38 934.63 L317.82 927.94 L319.26 921.21 L320.69 914.44 L322.13 907.65 L323.57 900.85 L325.00 894.05 L326.44 887.26 L327.88 880.49 L329.32 873.76 L330.75 867.07 L332.19 860.45 L333.63 853.89 L335.06 847.42 L336.50 841.04 L337.94 834.77 L339.37 828.61 L340.81 822.58 L342.25 816.69 L343.69 810.95 L345.12 805.36 L346.56 799.94 L348.00 794.70 L349.43 789.64 L350.87 784.78 L352.31 780.12 L353.75 775.67 L355.18 771.45 L356.62 767.45 L358.06 763.68 L359.49 760.16 L360.93 756.88 L362.37 753.85 L363.81 751.08 L365.24 748.58 L366.68 746.34 L368.12 744.37 L369.55 742.68 L370.99 741.27 L372.43 740.13 L373.87 739.28 L375.30 738.71 L376.74 738.43 L378.18 738.43 L379.61 738.71 L381.05 739.28 L382.49 740.13 L383.93 741.27 L385.36 742.68 L386.80 744.37 L388.24 746.34 L389.67 748.58 L391.11 751.08 L392.55 753.85 L393.99 756.88 L395.42 760.16 L396.86 763.68 L398.30 767.45 L399.73 771.45 L401.17 775.67 L402.61 780.12 L404.04 784.78 L405.48 789.64 L406.92 794.70 L408.36 799.94 L409.79 805.36 L411.23 810.95 L412.67 816.69 L414.10 822.58 L415.54 828.61 L416.98 834.77 L418.42 841.04 L419.85 847.42 L421.29 853.89 L422.73 860.45 L424.16 867.07 L425.60 873.76 L427.04 880.49 L428.48 887.26 L429.91 894.05 L431.35 900.85 L432.79 907.65 L434.22 914.44 L435.66 921.21 L437.10 927.94 L438.54 934.63 L439.97 941.25 L441.41 947.81 L442.85 954.28 L444.28 960.66 L445.72 966.93 L447.16 973.09 L448.60 979.12 L450.03 985.01 L451.47 990.75 L452.91 996.34 L454.34 1001.76 L455.78 1007.00 L457.22 1012.06 L458.66 1016.92 L460.09 1021.58 L461.53 1026.03 L462.97 1030.25 L464.40 1034.25 L465.84 1038.02 L467.28 1041.54 L468.71 1044.82 L470.15 1047.85 L471.59 1050.62 L473.03 1053.12 L474.46 1055.36 L475.90 1057.33 L477.34 1059.02 L478.77 1060.43 L480.21 1061.57 L481.65 1062.42 L483.09 1062.99 L484.52 1063.27 L485.96 1063.27 L487.40 1062.99 L488.83 1062.42 L490.27 1061.57 L491.71 1060.43 L493.15 1059.02 L494.58 1057.33 L496.02 1055.36 L497.46 1053.12 L498.89 1050.62 L500.33 1047.85 L501.77 1044.82 L503.21 1041.54 L504.64 1038.02 L506.08 1034.25 L507.52 1030.25 L508.95 1026.03 L510.39 1021.58 L511.83 1016.92 L513.27 1012.06 L514.70 1007.00 L516.14 1001.76 L517.58 996.34 L519.01 990.75 L520.45 985.01 L521.89 979.12 L523.33 973.09 L524.76 966.93 L526.20 960.66 L527.64 954.28 L529.07 947.81 L530.51 941.25 L531.95 934.63 L533.38 927.94 L534.82 921.21 L536.26 914.44 L537.70 907.65 L539.13 900.85 L540.57 894.05 L542.01 887.26 L543.44 880.49 L544.88 873.76 L546.32 867.07 L547.76 860.45 L549.19 853.89 L550.63 847.42 L552.07 841.04 L553.50 834.77 L554.94 828.61 L556.38 822.58 L557.82 816.69 L559.25 810.95 L560.69 805.36 L562.13 799.94 L563.56 794.70 L565.00 789.64 L566.44 784.78 L567.88 780.12 L569.31 775.67 L570.75 771.45 L572.19 767.45 L573.62 763.68 L575.06 760.16 L576.50 756.88 L577.94 753.85 L579.37 751.08 L580.81 748.58 L582.25 746.34 L583.68 744.37 L585.12 742.68 L586.56 741.27 L588.00 740.13 L589.43 739.28 L590.87 738.71 L592.31 738.43 L593.74 738.43 L595.18 738.71 L596.62 739.28 L598.05 740.13 L599.49 741.27 L600.93 742.68 L602.37 744.37 L603.80 746.34 L605.24 748.58 L606.68 751.08 L608.11 753.85 L609.55 756.88 L610.99 760.16 L612.43 763.68 L613.86 767.45 L615.30 771.45 L616.74 775.67 L618.17 780.12 L619.61 784.78 L621.05 789.64 L622.49 794.70 L623.92 799.94 L625.36 805.36 L626.80 810.95 L628.23 816.69 L629.67 822.58 L631.11 828.61 L632.55 834.77 L633.98 841.04 L635.42 847.42 L636.86 853.89 L638.29 860.45 L639.73 867.07 L641.17 873.76 L642.61 880.49 L644.04 887.26 L645.48 894.05 L646.92 900.85 L648.35 907.65 L649.79 914.44 L651.23 921.21 L652.67 927.94 L654.10 934.63 L655.54 941.25 L656.98 947.81 L658.41 954.28 L659.85 960.66 L661.29 966.93 L662.72 973.09 L664.16 979.12 L665.60 985.01 L667.04 990.75 L668.47 996.34 L669.91 1001.76 L671.35 1007.00 L672.78 1012.06 L674.22 1016.92 L675.66 1021.58 L677.10 1026.03 L678.53 1030.25 L679.97 1034.25 L681.41 1038.02 L682.84 1041.54 L684.28 1044.82 L685.72 1047.85 L687.16 1050.62 L688.59 1053.12 L690.03 1055.36 L691.47 1057.33 L692.90 1059.02 L694.34 1060.43 L695.78 1061.57 L697.22 1062.42 L698.65 1062.99 L700.09 1063.27 L701.53 1063.27 L702.96 1062.99 L704.40 1062.42 L705.84 1061.57 L707.28 1060.43 L708.71 1059.02 L710.15 1057.33 L711.59 1055.36 L713.02 1053.12 L714.46 1050.62 L715.90 1047.85 L717.34 1044.82 L718.77 1041.54 L720.21 1038.02 L721.65 1034.25 L723.08 1030.25 L724.52 1026.03 L725.96 1021.58 L727.39 1016.92 L728.83 1012.06 L730.27 1007.00 L731.71 1001.76 L733.14 996.34 L734.58 990.75 L736.02 985.01 L737.45 979.12 L738.89 973.09 L740.33 966.93 L741.77 960.66 L743.20 954.28 L744.64 947.81 L746.08 941.25 L747.51 934.63 L748.95 927.94 L750.39 921.21 L751.83 914.44 L753.26 907.65 L754.70 900.85 L756.14 894.05 L757.57 887.26 L759.01 880.49 L760.45 873.76 L761.89 867.07 L763.32 860.45 L764.76 853.89 L766.20 847.42 L767.63 841.04 L769.07 834.77 L770.51 828.61 L771.95 822.58 L773.38 816.69 L774.82 810.95 L776.26 805.36 L777.69 799.94 L779.13 794.70 L780.57 789.64 L782.01 784.78 L783.44 780.12 L784.88 775.67 L786.32 771.45 L787.75 767.45 L789.19 763.68 L790.63 760.16 L792.06 756.88 L793.50 753.85 L794.94 751.08 L796.38 748.58 L797.81 746.34 L799.25 744.37 L800.69 742.68 L802.12 741.27 L803.56 740.13 L805.00 739.28 L806.44 738.71 L807.87 738.43 L809.31 738.43 L810.75 738.71 L812.18 739.28 L813.62 740.13 L815.06 741.27 L816.50 742.68 L817.93 744.37 L819.37 746.34 L820.81 748.58 L822.24 751.08 L823.68 753.85 L825.12 756.88 L826.56 760.16 L827.99 763.68 L829.43 767.45 L830.87 771.45 L832.30 775.67 L833.74 780.12 L835.18 784.78 L836.62 789.64 L838.05 794.70 L839.49 799.94 L840.93 805.36 L842.36 810.95 L843.80 816.69 L845.24 822.58 L846.68 828.61 L848.11 834.77 L849.55 841.04 L850.99 847.42 L852.42 853.89 L853.86 860.45 L855.30 867.07 L856.73 873.76 L858.17 880.49 L859.61 887.26 L861.05 894.05 L862.48 900.85 L863.92 907.65 L865.36 914.44 L866.79 921.21 L868.23 927.94 L869.67 934.63 L871.11 941.25 L872.54 947.81 L873.98 954.28 L875.42 960.66 L876.85 966.93 L878.29 973.09 L879.73 979.12 L881.17 985.01 L882.60 990.75 L884.04 996.34 L885.48 1001.76 L886.91 1007.00 L888.35 1012.06 L889.79 1016.92 L891.23 1021.58 L892.66 1026.03 L894.10 1030.25 L895.54 1034.25 L896.97 1038.02 L898.41 1041.54 L899.85 1044.82 L901.29 1047.85 L902.72 1050.62 L904.16 1053.12 L905.60 1055.36 L907.03 1057.33 L908.47 1059.02 L909.91 1060.43 L911.35 1061.57 L912.78 1062.42 L914.22 1062.99 L915.66 1063.27 L917.09 1063.27 L918.53 1062.99 L919.97 1062.42 L921.40 1061.57 L922.84 1060.43 L924.28 1059.02 L925.72 1057.33 L927.15 1055.36 L928.59 1053.12 L930.03 1050.62 L931.46 1047.85 L932.90 1044.82 L934.34 1041.54 L935.78 1038.02 L937.21 1034.25 L938.65 1030.25 L940.09 1026.03 L941.52 1021.58 L942.96 1016.92 L944.40 1012.06 L945.84 1007.00 L947.27 1001.76 L948.71 996.34 L950.15 990.75 L951.58 985.01 L953.02 979.12 L954.46 973.09 L955.90 966.93 L957.33 960.66 L958.77 954.28 L960.21 947.81 L961.64 941.25 L963.08 934.63 L964.52 927.94 L965.96 921.21 L967.39 914.44 L968.83 907.65 L970.27 900.85 L971.70 894.05 L973.14 887.26 L974.58 880.49 L976.02 873.76 L977.45 867.07 L978.89 860.45 L980.33 853.89 L981.76 847.42 L983.20 841.04 L984.64 834.77 L986.07 828.61 L987.51 822.58 L988.95 816.69 L990.39 810.95 L991.82 805.36 L993.26 799.94 L994.70 794.70 L996.13 789.64 L997.57 784.78 L999.01 780.12 L1000.45 775.67 L1001.88 771.45 L1003.32 767.45 L1004.76 763.68 L1006.19 760.16 L1007.63 756.88 L1009.07 753.85 L1010.51 751.08 L1011.94 748.58 L1013.38 746.34 L1014.82 744.37 L1016.25 742.68 L1017.69 741.27 L1019.13 740.13 L1020.57 739.28 L1022.00 738.71 L1023.44 738.43 L1024.88 738.43 L1026.31 738.71 L1027.75 739.28 L1029.19 740.13 L1030.63 741.27 L1032.06 742.68 L1033.50 744.37 L1034.94 746.34 L1036.37 748.58 L1037.81 751.08 L1039.25 753.85 L1040.69 756.88 L1042.12 760.16 L1043.56 763.68 L1045.00 767.45 L1046.43 771.45 L1047.87 775.67 L1049.31 780.12 L1050.74 784.78 L1052.18 789.64 L1053.62 794.70 L1055.06 799.94 L1056.49 805.36 L1057.93 810.95 L1059.37 816.69 L1060.80 822.58 L1062.24 828.61 L1063.68 834.77 L1065.12 841.04 L1066.55 847.42 L1067.99 853.89 L1069.43 860.45 L1070.86 867.07 L1072.30 873.76 L1073.74 880.49 L1075.18 887.26 L1076.61 894.05 L1078.05 900.85 L1079.49 907.65 L1080.92 914.44 L1082.36 921.21 L1083.80 927.94 L1085.24 934.63 L1086.67 941.25 L1088.11 947.81 L1089.55 954.28 L1090.98 960.66 L1092.42 966.93 L1093.86 973.09 L1095.30 979.12 L1096.73 985.01 L1098.17 990.75 L1099.61 996.34 L1101.04 1001.76 L1102.48 1007.00 L1103.92 1012.06 L1105.36 1016.92 L1106.79 1021.58 L1108.23 1026.03 L1109.67 1030.25 L1111.10 1034.25 L1112.54 1038.02 L1113.98 1041.54 L1115.41 1044.82 L1116.85 1047.85 L1118.29 1050.62 L1119.73 1053.12 L1121.16 1055.36 L1122.60 1057.33 L1124.04 1059.02 L1125.47 1060.43 L1126.91 1061.57 L1128.35 1062.42 L1129.79 1062.99 L1131.22 1063.27 L1132.66 1063.27 L1134.10 1062.99 L1135.53 1062.42 L1136.97 1061.57 L1138.41 1060.43 L1139.85 1059.02 L1141.28 1057.33 L1142.72 1055.36 L1144.16 1053.12 L1145.59 1050.62 L1147.03 1047.85 L1148.47 1044.82 L1149.91 1041.54 L1151.34 1038.02 L1152.78 1034.25 L1154.22 1030.25 L1155.65 1026.03 L1157.09 1021.58 L1158.53 1016.92 L1159.97 1012.06 L1161.40 1007.00 L1162.84 1001.76 L1164.28 996.34 L1165.71 990.75 L1167.15 985.01 L1168.59 979.12 L1170.03 973.09 L1171.46 966.93 L1172.90 960.66 L1174.34 954.28 L1175.77 947.81 L1177.21 941.25 L1178.65 934.63 L1180.08 927.94 L1181.52 921.21 L1182.96 914.44 L1184.40 907.65 L1185.83 900.85 L1187.27 894.05 L1188.71 887.26 L1190.14 880.49 L1191.58 873.76 L1193.02 867.07 L1194.46 860.45 L1195.89 853.89 L1197.33 847.42 L1198.77 841.04 L1200.20 834.77 L1201.64 828.61 L1203.08 822.58 L1204.52 816.69 L1205.95 810.95 L1207.39 805.36 L1208.83 799.94 L1210.26 794.70 L1211.70 789.64 L1213.14 784.78 L1214.58 780.12 L1216.01 775.67 L1217.45 771.45 L1218.89 767.45 L1220.32 763.68 L1221.76 760.16 L1223.20 756.88 L1224.64 753.85 L1226.07 751.08 L1227.51 748.58 L1228.95 746.34 L1230.38 744.37 L1231.82 742.68 L1233.26 741.27 L1234.70 740.13 L1236.13 739.28 L1237.57 738.71 L1239.01 738.43 L1240.44 738.43 L1241.88 738.71 L1243.32 739.28 L1244.75 740.13 L1246.19 741.27 L1247.63 742.68 L1249.07 744.37 L1250.50 746.34 L1251.94 748.58 L1253.38 751.08 L1254.81 753.85 L1256.25 756.88 L1257.69 760.16 L1259.13 763.68 L1260.56 767.45 L1262.00 771.45 L1263.44 775.67 L1264.87 780.12 L1266.31 784.78 L1267.75 789.64 L1269.19 794.70 L1270.62 799.94 L1272.06 805.36 L1273.50 810.95 L1274.93 816.69 L1276.37 822.58 L1277.81 828.61 L1279.25 834.77 L1280.68 841.04 L1282.12 847.42 L1283.56 853.89 L1284.99 860.45 L1286.43 867.07 L1287.87 873.76 L1289.31 880.49 L1290.74 887.26 L1292.18 894.05 L1293.62 900.85 L1295.05 907.65 L1296.49 914.44 L1297.93 921.21 L1299.37 927.94 L1300.80 934.63 L1302.24 941.25 L1303.68 947.81 L1305.11 954.28 L1306.55 960.66 L1307.99 966.93 L1309.42 973.09 L1310.86 979.12 L1312.30 985.01 L1313.74 990.75 L1315.17 996.34 L1316.61 1001.76 L1318.05 1007.00 L1319.48 1012.06 L1320.92 1016.92 L1322.36 1021.58 L1323.80 1026.03 L1325.23 1030.25 L1326.67 1034.25 L1328.11 1038.02 L1329.54 1041.54 L1330.98 1044.82 L1332.42 1047.85 L1333.86 1050.62 L1335.29 1053.12 L1336.73 1055.36 L1338.17 1057.33 L1339.60 1059.02 L1341.04 1060.43 L1342.48 1061.57 L1343.92 1062.42 L1345.35 1062.99 L1346.79 1063.27 L1348.23 1063.27 L1349.66 1062.99 L1351.10 1062.42 L1352.54 1061.57 L1353.98 1060.43 L1355.41 1059.02 L1356.85 1057.33 L1358.29 1055.36 L1359.72 1053.12 L1361.16 1050.62 L1362.60 1047.85 L1364.04 1044.82 L1365.47 1041.54 L1366.91 1038.02 L1368.35 1034.25 L1369.78 1030.25 L1371.22 1026.03 L1372.66 1021.58 L1374.09 1016.92 L1375.53 1012.06 L1376.97 1007.00 L1378.41 1001.76 L1379.84 996.34 L1381.28 990.75 L1382.72 985.01 L1384.15 979.12 L1385.59 973.09 L1387.03 966.93 L1388.47 960.66 L1389.90 954.28 L1391.34 947.81 L1392.78 941.25 L1394.21 934.63 L1395.65 927.94 L1397.09 921.21 L1398.53 914.44 L1399.96 907.65 L1401.40 900.85" stroke="#0672BB" stroke-width="4.20"/>
<path d="M108.00 900.85 L109.44 894.05 L110.87 887.26 L112.31 880.49 L113.75 873.76 L115.19 867.07 L116.62 860.45 L118.06 853.89 L119.50 847.42 L120.93 841.04 L122.37 834.77 L123.81 828.61 L125.25 822.58 L126.68 816.69 L128.12 810.95 L129.56 805.36 L130.99 799.94 L132.43 794.70 L133.87 789.64 L135.31 784.78 L136.74 780.12 L138.18 775.67 L139.62 771.45 L141.05 767.45 L142.49 763.68 L143.93 760.16 L145.36 756.88 L146.80 753.85 L148.24 751.08 L149.68 748.58 L151.11 746.34 L152.55 744.37 L153.99 742.68 L155.42 741.27 L156.86 740.13 L158.30 739.28 L159.74 738.71 L161.17 738.43 L162.61 738.43 L164.05 738.71 L165.48 739.28 L166.92 740.13 L168.36 741.27 L169.80 742.68 L171.23 744.37 L172.67 746.34 L174.11 748.58 L175.54 751.08 L176.98 753.85 L178.42 756.88 L179.86 760.16 L181.29 763.68 L182.73 767.45 L184.17 771.45 L185.60 775.67 L187.04 780.12 L188.48 784.78 L189.92 789.64 L191.35 794.70 L192.79 799.94 L194.23 805.36 L195.66 810.95 L197.10 816.69 L198.54 822.58 L199.98 828.61 L201.41 834.77 L202.85 841.04 L204.29 847.42 L205.72 853.89 L207.16 860.45 L208.60 867.07 L210.03 873.76 L211.47 880.49 L212.91 887.26 L214.35 894.05 L215.78 900.85 M215.78 900.85 L217.22 901.61 L218.66 902.36 L220.09 903.12 L221.53 903.87 L222.97 904.63 L224.41 905.38 L225.84 906.13 L227.28 906.89 L228.72 907.64 L230.15 908.39 L231.59 909.13 L233.03 909.88 L234.47 910.63 L235.90 911.37 L237.34 912.11 L238.78 912.85 L240.21 913.58 L241.65 914.32 L243.09 915.05 L244.53 915.78 L245.96 916.50 L247.40 917.22 L248.84 917.94 L250.27 918.66 L251.71 919.37 L253.15 920.08 L254.59 920.79 L256.02 921.49 L257.46 922.18 L258.90 922.88 L260.33 923.56 L261.77 924.25 L263.21 924.93 L264.65 925.60 L266.08 926.27 L267.52 926.94 L268.96 927.60 L270.39 928.25 L271.83 928.90 L273.27 929.55 L274.70 930.19 L276.14 930.82 L277.58 931.44 L279.02 932.07 L280.45 932.68 L281.89 933.29 L283.33 933.89 L284.76 934.49 L286.20 935.08 L287.64 935.66 L289.08 936.23 L290.51 936.80 L291.95 937.37 L293.39 937.92 L294.82 938.47 L296.26 939.01 L297.70 939.54 L299.14 940.07 L300.57 940.58 L302.01 941.09 L303.45 941.60 L304.88 942.09 L306.32 942.58 L307.76 943.05 L309.20 943.52 L310.63 943.98 L312.07 944.44 L313.51 944.88 L314.94 945.32 L316.38 945.75 L317.82 946.16 L319.26 946.57 L320.69 946.97 L322.13 947.37 L323.57 947.75 L325.00 948.12 L326.44 948.49 L327.88 948.84 L329.32 949.19 L330.75 949.52 L332.19 949.85 L333.63 950.17 L335.06 950.47 L336.50 950.77 L337.94 951.06 L339.37 951.34 L340.81 951.61 L342.25 951.87 L343.69 952.11 L345.12 952.35 L346.56 952.58 L348.00 952.80 L349.43 953.01 L350.87 953.21 L352.31 953.39 L353.75 953.57 L355.18 953.74 L356.62 953.90 L358.06 954.04 L359.49 954.18 L360.93 954.31 L362.37 954.42 L363.81 954.53 L365.24 954.62 L366.68 954.71 L368.12 954.78 L369.55 954.84 L370.99 954.90 L372.43 954.94 L373.87 954.97 L375.30 954.99 L376.74 955.00 L378.18 955.00 L379.61 954.99 L381.05 954.97 L382.49 954.94 L383.93 954.90 L385.36 954.84 L386.80 954.78 L388.24 954.71 L389.67 954.62 L391.11 954.53 L392.55 954.42 L393.99 954.31 L395.42 954.18 L396.86 954.04 L398.30 953.90 L399.73 953.74 L401.17 953.57 L402.61 953.39 L404.04 953.21 L405.48 953.01 L406.92 952.80 L408.36 952.58 L409.79 952.35 L411.23 952.11 L412.67 951.87 L414.10 951.61 L415.54 951.34 L416.98 951.06 L418.42 950.77 L419.85 950.47 L421.29 950.17 L422.73 949.85 L424.16 949.52 L425.60 949.19 L427.04 948.84 L428.48 948.49 L429.91 948.12 L431.35 947.75 L432.79 947.37 L434.22 946.97 L435.66 946.57 L437.10 946.16 L438.54 945.75 L439.97 945.32 L441.41 944.88 L442.85 944.44 L444.28 943.98 L445.72 943.52 L447.16 943.05 L448.60 942.58 L450.03 942.09 L451.47 941.60 L452.91 941.09 L454.34 940.58 L455.78 940.07 L457.22 939.54 L458.66 939.01 L460.09 938.47 L461.53 937.92 L462.97 937.37 L464.40 936.80 L465.84 936.23 L467.28 935.66 L468.71 935.08 L470.15 934.49 L471.59 933.89 L473.03 933.29 L474.46 932.68 L475.90 932.07 L477.34 931.44 L478.77 930.82 L480.21 930.19 L481.65 929.55 L483.09 928.90 L484.52 928.25 L485.96 927.60 L487.40 926.94 L488.83 926.27 L490.27 925.60 L491.71 924.93 L493.15 924.25 L494.58 923.56 L496.02 922.88 L497.46 922.18 L498.89 921.49 L500.33 920.79 L501.77 920.08 L503.21 919.37 L504.64 918.66 L506.08 917.94 L507.52 917.22 L508.95 916.50 L510.39 915.78 L511.83 915.05 L513.27 914.32 L514.70 913.58 L516.14 912.85 L517.58 912.11 L519.01 911.37 L520.45 910.63 L521.89 909.88 L523.33 909.13 L524.76 908.39 L526.20 907.64 L527.64 906.89 L529.07 906.13 L530.51 905.38 L531.95 904.63 L533.38 903.87 L534.82 903.12 L536.26 902.36 L537.70 901.61 L539.13 900.85 M539.13 900.85 L540.57 894.05 L542.01 887.26 L543.44 880.49 L544.88 873.76 L546.32 867.07 L547.76 860.45 L549.19 853.89 L550.63 847.42 L552.07 841.04 L553.50 834.77 L554.94 828.61 L556.38 822.58 L557.82 816.69 L559.25 810.95 L560.69 805.36 L562.13 799.94 L563.56 794.70 L565.00 789.64 L566.44 784.78 L567.88 780.12 L569.31 775.67 L570.75 771.45 L572.19 767.45 L573.62 763.68 L575.06 760.16 L576.50 756.88 L577.94 753.85 L579.37 751.08 L580.81 748.58 L582.25 746.34 L583.68 744.37 L585.12 742.68 L586.56 741.27 L588.00 740.13 L589.43 739.28 L590.87 738.71 L592.31 738.43 L593.74 738.43 L595.18 738.71 L596.62 739.28 L598.05 740.13 L599.49 741.27 L600.93 742.68 L602.37 744.37 L603.80 746.34 L605.24 748.58 L606.68 751.08 L608.11 753.85 L609.55 756.88 L610.99 760.16 L612.43 763.68 L613.86 767.45 L615.30 771.45 L616.74 775.67 L618.17 780.12 L619.61 784.78 L621.05 789.64 L622.49 794.70 L623.92 799.94 L625.36 805.36 L626.80 810.95 L628.23 816.69 L629.67 822.58 L631.11 828.61 L632.55 834.77 L633.98 841.04 L635.42 847.42 L636.86 853.89 L638.29 860.45 L639.73 867.07 L641.17 873.76 L642.61 880.49 L644.04 887.26 L645.48 894.05 L646.92 900.85 M646.92 900.85 L648.35 901.61 L649.79 902.36 L651.23 903.12 L652.67 903.87 L654.10 904.63 L655.54 905.38 L656.98 906.13 L658.41 906.89 L659.85 907.64 L661.29 908.39 L662.72 909.13 L664.16 909.88 L665.60 910.63 L667.04 911.37 L668.47 912.11 L669.91 912.85 L671.35 913.58 L672.78 914.32 L674.22 915.05 L675.66 915.78 L677.10 916.50 L678.53 917.22 L679.97 917.94 L681.41 918.66 L682.84 919.37 L684.28 920.08 L685.72 920.79 L687.16 921.49 L688.59 922.18 L690.03 922.88 L691.47 923.56 L692.90 924.25 L694.34 924.93 L695.78 925.60 L697.22 926.27 L698.65 926.94 L700.09 927.60 L701.53 928.25 L702.96 928.90 L704.40 929.55 L705.84 930.19 L707.28 930.82 L708.71 931.44 L710.15 932.07 L711.59 932.68 L713.02 933.29 L714.46 933.89 L715.90 934.49 L717.34 935.08 L718.77 935.66 L720.21 936.23 L721.65 936.80 L723.08 937.37 L724.52 937.92 L725.96 938.47 L727.39 939.01 L728.83 939.54 L730.27 940.07 L731.71 940.58 L733.14 941.09 L734.58 941.60 L736.02 942.09 L737.45 942.58 L738.89 943.05 L740.33 943.52 L741.77 943.98 L743.20 944.44 L744.64 944.88 L746.08 945.32 L747.51 945.75 L748.95 946.16 L750.39 946.57 L751.83 946.97 L753.26 947.37 L754.70 947.75 L756.14 948.12 L757.57 948.49 L759.01 948.84 L760.45 949.19 L761.89 949.52 L763.32 949.85 L764.76 950.17 L766.20 950.47 L767.63 950.77 L769.07 951.06 L770.51 951.34 L771.95 951.61 L773.38 951.87 L774.82 952.11 L776.26 952.35 L777.69 952.58 L779.13 952.80 L780.57 953.01 L782.01 953.21 L783.44 953.39 L784.88 953.57 L786.32 953.74 L787.75 953.90 L789.19 954.04 L790.63 954.18 L792.06 954.31 L793.50 954.42 L794.94 954.53 L796.38 954.62 L797.81 954.71 L799.25 954.78 L800.69 954.84 L802.12 954.90 L803.56 954.94 L805.00 954.97 L806.44 954.99 L807.87 955.00 L809.31 955.00 L810.75 954.99 L812.18 954.97 L813.62 954.94 L815.06 954.90 L816.50 954.84 L817.93 954.78 L819.37 954.71 L820.81 954.62 L822.24 954.53 L823.68 954.42 L825.12 954.31 L826.56 954.18 L827.99 954.04 L829.43 953.90 L830.87 953.74 L832.30 953.57 L833.74 953.39 L835.18 953.21 L836.62 953.01 L838.05 952.80 L839.49 952.58 L840.93 952.35 L842.36 952.11 L843.80 951.87 L845.24 951.61 L846.68 951.34 L848.11 951.06 L849.55 950.77 L850.99 950.47 L852.42 950.17 L853.86 949.85 L855.30 949.52 L856.73 949.19 L858.17 948.84 L859.61 948.49 L861.05 948.12 L862.48 947.75 L863.92 947.37 L865.36 946.97 L866.79 946.57 L868.23 946.16 L869.67 945.75 L871.11 945.32 L872.54 944.88 L873.98 944.44 L875.42 943.98 L876.85 943.52 L878.29 943.05 L879.73 942.58 L881.17 942.09 L882.60 941.60 L884.04 941.09 L885.48 940.58 L886.91 940.07 L888.35 939.54 L889.79 939.01 L891.23 938.47 L892.66 937.92 L894.10 937.37 L895.54 936.80 L896.97 936.23 L898.41 935.66 L899.85 935.08 L901.29 934.49 L902.72 933.89 L904.16 933.29 L905.60 932.68 L907.03 932.07 L908.47 931.44 L909.91 930.82 L911.35 930.19 L912.78 929.55 L914.22 928.90 L915.66 928.25 L917.09 927.60 L918.53 926.94 L919.97 926.27 L921.40 925.60 L922.84 924.93 L924.28 924.25 L925.72 923.56 L927.15 922.88 L928.59 922.18 L930.03 921.49 L931.46 920.79 L932.90 920.08 L934.34 919.37 L935.78 918.66 L937.21 917.94 L938.65 917.22 L940.09 916.50 L941.52 915.78 L942.96 915.05 L944.40 914.32 L945.84 913.58 L947.27 912.85 L948.71 912.11 L950.15 911.37 L951.58 910.63 L953.02 909.88 L954.46 909.13 L955.90 908.39 L957.33 907.64 L958.77 906.89 L960.21 906.13 L961.64 905.38 L963.08 904.63 L964.52 903.87 L965.96 903.12 L967.39 902.36 L968.83 901.61 L970.27 900.85 M970.27 900.85 L971.70 894.05 L973.14 887.26 L974.58 880.49 L976.02 873.76 L977.45 867.07 L978.89 860.45 L980.33 853.89 L981.76 847.42 L983.20 841.04 L984.64 834.77 L986.07 828.61 L987.51 822.58 L988.95 816.69 L990.39 810.95 L991.82 805.36 L993.26 799.94 L994.70 794.70 L996.13 789.64 L997.57 784.78 L999.01 780.12 L1000.45 775.67 L1001.88 771.45 L1003.32 767.45 L1004.76 763.68 L1006.19 760.16 L1007.63 756.88 L1009.07 753.85 L1010.51 751.08 L1011.94 748.58 L1013.38 746.34 L1014.82 744.37 L1016.25 742.68 L1017.69 741.27 L1019.13 740.13 L1020.57 739.28 L1022.00 738.71 L1023.44 738.43 L1024.88 738.43 L1026.31 738.71 L1027.75 739.28 L1029.19 740.13 L1030.63 741.27 L1032.06 742.68 L1033.50 744.37 L1034.94 746.34 L1036.37 748.58 L1037.81 751.08 L1039.25 753.85 L1040.69 756.88 L1042.12 760.16 L1043.56 763.68 L1045.00 767.45 L1046.43 771.45 L1047.87 775.67 L1049.31 780.12 L1050.74 784.78 L1052.18 789.64 L1053.62 794.70 L1055.06 799.94 L1056.49 805.36 L1057.93 810.95 L1059.37 816.69 L1060.80 822.58 L1062.24 828.61 L1063.68 834.77 L1065.12 841.04 L1066.55 847.42 L1067.99 853.89 L1069.43 860.45 L1070.86 867.07 L1072.30 873.76 L1073.74 880.49 L1075.18 887.26 L1076.61 894.05 L1078.05 900.85 M1078.05 900.85 L1079.49 901.61 L1080.92 902.36 L1082.36 903.12 L1083.80 903.87 L1085.24 904.63 L1086.67 905.38 L1088.11 906.13 L1089.55 906.89 L1090.98 907.64 L1092.42 908.39 L1093.86 909.13 L1095.30 909.88 L1096.73 910.63 L1098.17 911.37 L1099.61 912.11 L1101.04 912.85 L1102.48 913.58 L1103.92 914.32 L1105.36 915.05 L1106.79 915.78 L1108.23 916.50 L1109.67 917.22 L1111.10 917.94 L1112.54 918.66 L1113.98 919.37 L1115.41 920.08 L1116.85 920.79 L1118.29 921.49 L1119.73 922.18 L1121.16 922.88 L1122.60 923.56 L1124.04 924.25 L1125.47 924.93 L1126.91 925.60 L1128.35 926.27 L1129.79 926.94 L1131.22 927.60 L1132.66 928.25 L1134.10 928.90 L1135.53 929.55 L1136.97 930.19 L1138.41 930.82 L1139.85 931.44 L1141.28 932.07 L1142.72 932.68 L1144.16 933.29 L1145.59 933.89 L1147.03 934.49 L1148.47 935.08 L1149.91 935.66 L1151.34 936.23 L1152.78 936.80 L1154.22 937.37 L1155.65 937.92 L1157.09 938.47 L1158.53 939.01 L1159.97 939.54 L1161.40 940.07 L1162.84 940.58 L1164.28 941.09 L1165.71 941.60 L1167.15 942.09 L1168.59 942.58 L1170.03 943.05 L1171.46 943.52 L1172.90 943.98 L1174.34 944.44 L1175.77 944.88 L1177.21 945.32 L1178.65 945.75 L1180.08 946.16 L1181.52 946.57 L1182.96 946.97 L1184.40 947.37 L1185.83 947.75 L1187.27 948.12 L1188.71 948.49 L1190.14 948.84 L1191.58 949.19 L1193.02 949.52 L1194.46 949.85 L1195.89 950.17 L1197.33 950.47 L1198.77 950.77 L1200.20 951.06 L1201.64 951.34 L1203.08 951.61 L1204.52 951.87 L1205.95 952.11 L1207.39 952.35 L1208.83 952.58 L1210.26 952.80 L1211.70 953.01 L1213.14 953.21 L1214.58 953.39 L1216.01 953.57 L1217.45 953.74 L1218.89 953.90 L1220.32 954.04 L1221.76 954.18 L1223.20 954.31 L1224.64 954.42 L1226.07 954.53 L1227.51 954.62 L1228.95 954.71 L1230.38 954.78 L1231.82 954.84 L1233.26 954.90 L1234.70 954.94 L1236.13 954.97 L1237.57 954.99 L1239.01 955.00 L1240.44 955.00 L1241.88 954.99 L1243.32 954.97 L1244.75 954.94 L1246.19 954.90 L1247.63 954.84 L1249.07 954.78 L1250.50 954.71 L1251.94 954.62 L1253.38 954.53 L1254.81 954.42 L1256.25 954.31 L1257.69 954.18 L1259.13 954.04 L1260.56 953.90 L1262.00 953.74 L1263.44 953.57 L1264.87 953.39 L1266.31 953.21 L1267.75 953.01 L1269.19 952.80 L1270.62 952.58 L1272.06 952.35 L1273.50 952.11 L1274.93 951.87 L1276.37 951.61 L1277.81 951.34 L1279.25 951.06 L1280.68 950.77 L1282.12 950.47 L1283.56 950.17 L1284.99 949.85 L1286.43 949.52 L1287.87 949.19 L1289.31 948.84 L1290.74 948.49 L1292.18 948.12 L1293.62 947.75 L1295.05 947.37 L1296.49 946.97 L1297.93 946.57 L1299.37 946.16 L1300.80 945.75 L1302.24 945.32 L1303.68 944.88 L1305.11 944.44 L1306.55 943.98 L1307.99 943.52 L1309.42 943.05 L1310.86 942.58 L1312.30 942.09 L1313.74 941.60 L1315.17 941.09 L1316.61 940.58 L1318.05 940.07 L1319.48 939.54 L1320.92 939.01 L1322.36 938.47 L1323.80 937.92 L1325.23 937.37 L1326.67 936.80 L1328.11 936.23 L1329.54 935.66 L1330.98 935.08 L1332.42 934.49 L1333.86 933.89 L1335.29 933.29 L1336.73 932.68 L1338.17 932.07 L1339.60 931.44 L1341.04 930.82 L1342.48 930.19 L1343.92 929.55 L1345.35 928.90 L1346.79 928.25 L1348.23 927.60 L1349.66 926.94 L1351.10 926.27 L1352.54 925.60 L1353.98 924.93 L1355.41 924.25 L1356.85 923.56 L1358.29 922.88 L1359.72 922.18 L1361.16 921.49 L1362.60 920.79 L1364.04 920.08 L1365.47 919.37 L1366.91 918.66 L1368.35 917.94 L1369.78 917.22 L1371.22 916.50 L1372.66 915.78 L1374.09 915.05 L1375.53 914.32 L1376.97 913.58 L1378.41 912.85 L1379.84 912.11 L1381.28 911.37 L1382.72 910.63 L1384.15 909.88 L1385.59 909.13 L1387.03 908.39 L1388.47 907.64 L1389.90 906.89 L1391.34 906.13 L1392.78 905.38 L1394.21 904.63 L1395.65 903.87 L1397.09 903.12 L1398.53 902.36 L1399.96 901.61 L1401.40 900.85" stroke="#D9531D" stroke-width="4.20" stroke-dasharray="23.8 13.8"/>
</g>
<rect x="1135.4" y="143.4" width="240.4" height="98.9" fill="#fff" stroke="#4D4D4F" stroke-width="1.45"/>
<line x1="1145.1" y1="170.1" x2="1239.0" y2="170.1" stroke="#0672BB" stroke-width="4.20"/>
<line x1="1145.1" y1="215.4" x2="1239.0" y2="215.4" stroke="#D9531D" stroke-width="4.20"/>
<text x="1246.3" y="176.60" font-size="27.00" fill="#231F20">T<tspan font-size="21.60" dy="11.4">I</tspan><tspan dy="-11.4"> = 2.5s</tspan></text>
<text x="1246.3" y="223.60" font-size="27.00" fill="#231F20">T<tspan font-size="21.60" dy="11.4">I</tspan><tspan dy="-11.4"> = 1.25s</tspan></text>
<rect x="1065.3" y="717.6" width="310.0" height="79.8" fill="#fff" stroke="#4D4D4F" stroke-width="1.45"/>
<line x1="1074.7" y1="739.4" x2="1169.0" y2="739.4" stroke="#0672BB" stroke-width="4.20"/>
<line x1="1074.7" y1="775.5" x2="1169.0" y2="775.5" stroke="#D9531D" stroke-width="4.20" stroke-dasharray="23.8 13.8"/>
<text x="1176.9" y="750.0" font-size="26.67" fill="#231F20">Rate of 24 BPM</text>
<text x="1176.9" y="786.0" font-size="26.67" fill="#231F20">Rate of 12 BPM</text>
<text x="723.6" y="46.1" font-size="42.30" fill="#231F20" text-anchor="middle">Breathing Rate vs Frequency</text>
<text x="755.3" y="104.2" font-size="32.80" font-weight="bold" fill="#231F20" text-anchor="middle">Different Inspired Frequency and Same Rate</text>
<text x="755.3" y="678.2" font-size="32.80" font-weight="bold" fill="#231F20" text-anchor="middle">Same Inspired Frequency and Different Rate</text>
<text x="8.2" y="29.0" font-size="34.50" font-weight="bold" fill="#000">A</text>
<text x="8.5" y="678.7" font-size="34.50" font-weight="bold" fill="#000">B</text>
</svg></body></html>
